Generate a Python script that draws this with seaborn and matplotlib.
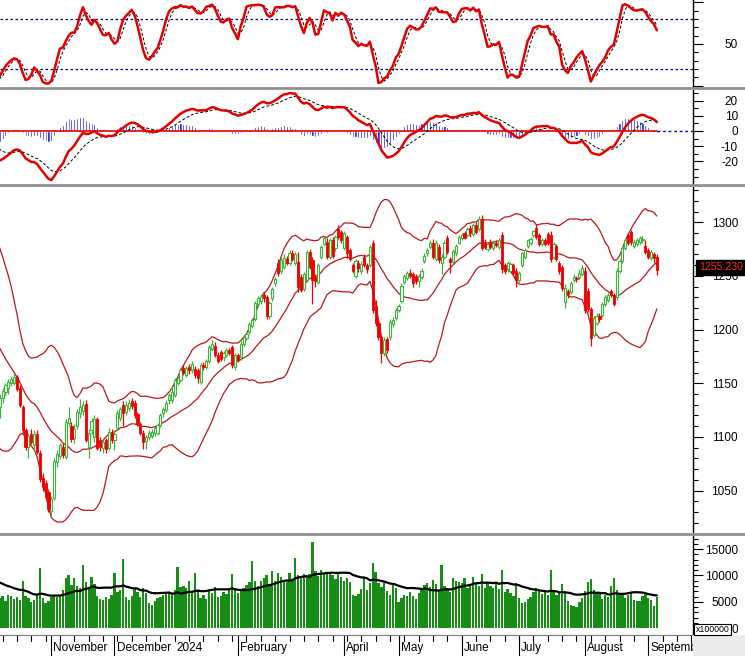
import numpy as np
import pandas as pd
import matplotlib
matplotlib.use("Agg")
import matplotlib.pyplot as plt
from matplotlib.lines import Line2D
from matplotlib.patches import Rectangle
from matplotlib.ticker import FixedLocator
import seaborn as sns

# ---------------- data (bar 0 = 1 Nov 2023, first value = bar -50) ----------------
first_bar = -50

opens = [
    1178, 1172, 1168, 1175, 1182, 1177, 1180, 1189, 1184, 1182,
    1212, 1226, 1224, 1237, 1246, 1242, 1235, 1238, 1240, 1232,
    1230, 1218, 1200, 1180, 1165, 1130, 1148, 1155, 1154, 1140,
    1122, 1118, 1128, 1136, 1142, 1146, 1150, 1150, 1156, 1146,
    1128, 1106, 1091, 1103, 1092, 1103, 1085, 1062, 1057, 1049,
    1031, 1043, 1077, 1082, 1091, 1081, 1113, 1110, 1099, 1110,
    1122, 1124, 1131, 1091, 1106, 1100, 1117, 1097, 1090, 1097,
    1090, 1104, 1097, 1108, 1118, 1130, 1123, 1127, 1133, 1132,
    1121, 1112, 1104, 1096, 1100, 1101, 1104, 1104, 1111, 1122,
    1125, 1134, 1134, 1139, 1150, 1153, 1164, 1158, 1165, 1162,
    1163, 1162, 1151, 1167, 1165, 1171, 1182, 1185, 1176, 1179,
    1174, 1176, 1181, 1184, 1165, 1176, 1174, 1187, 1192, 1198,
    1203, 1210, 1224, 1227, 1232, 1230, 1213, 1229, 1243, 1262,
    1255, 1258, 1266, 1262, 1271, 1262, 1263, 1249, 1238, 1246,
    1272, 1265, 1249, 1244, 1268, 1280, 1282, 1268, 1283, 1276,
    1294, 1291, 1276, 1286, 1274, 1260, 1250, 1262, 1255, 1268,
    1260, 1260, 1281, 1222, 1206, 1193, 1178, 1191, 1193, 1205,
    1211, 1218, 1227, 1244, 1248, 1253, 1252, 1250, 1245, 1249,
    1264, 1271, 1277, 1281, 1266, 1277, 1262, 1268, 1285, 1266,
    1263, 1271, 1281, 1285, 1290, 1288, 1295, 1289, 1297, 1294,
    1303, 1281, 1275, 1282, 1276, 1281, 1277, 1288, 1260, 1256,
    1255, 1260, 1255, 1246, 1260, 1268, 1278, 1281, 1288, 1295,
    1288, 1280, 1283, 1289, 1288, 1268, 1278, 1262, 1258, 1226,
    1236, 1235, 1246, 1248, 1249, 1252, 1255, 1236, 1219, 1195,
    1206, 1213, 1214, 1224, 1228, 1236, 1232, 1230, 1255, 1264,
    1276, 1288, 1291, 1278, 1280, 1282, 1283, 1278, 1274, 1267,
    1270, 1268,
]
highs = [
    1182, 1176, 1178, 1184, 1185, 1183, 1191, 1192, 1188, 1213,
    1228, 1231, 1238, 1248, 1251, 1245, 1241, 1244, 1242, 1236,
    1232, 1220, 1203, 1188, 1167, 1150, 1158, 1160, 1157, 1142,
    1126, 1128, 1140, 1146, 1150, 1154, 1157, 1159, 1158, 1148,
    1130, 1108, 1104, 1107, 1106, 1106, 1088, 1066, 1060, 1051,
    1045, 1080, 1088, 1094, 1094, 1117, 1128, 1114, 1112, 1126,
    1135, 1133, 1134, 1107, 1118, 1120, 1119, 1100, 1098, 1099,
    1108, 1107, 1106, 1125, 1128, 1133, 1133, 1135, 1136, 1134,
    1123, 1114, 1106, 1102, 1106, 1107, 1110, 1113, 1122, 1128,
    1134, 1141, 1148, 1155, 1158, 1164, 1167, 1166, 1168, 1171,
    1166, 1164, 1169, 1170, 1173, 1186, 1190, 1188, 1179, 1181,
    1180, 1183, 1183, 1186, 1178, 1178, 1189, 1195, 1198, 1207,
    1211, 1227, 1231, 1233, 1235, 1232, 1227, 1240, 1249, 1266,
    1268, 1270, 1269, 1274, 1274, 1272, 1272, 1252, 1254, 1274,
    1275, 1268, 1252, 1262, 1279, 1287, 1285, 1285, 1286, 1288,
    1297, 1293, 1292, 1288, 1276, 1262, 1266, 1265, 1264, 1270,
    1262, 1279, 1283, 1228, 1208, 1195, 1193, 1193, 1210, 1212,
    1220, 1224, 1243, 1252, 1255, 1256, 1254, 1252, 1252, 1257,
    1271, 1276, 1283, 1284, 1283, 1280, 1270, 1283, 1288, 1268,
    1275, 1280, 1288, 1290, 1292, 1296, 1297, 1299, 1300, 1306,
    1307, 1284, 1282, 1284, 1283, 1283, 1285, 1291, 1262, 1264,
    1263, 1262, 1257, 1255, 1272, 1276, 1284, 1286, 1293, 1298,
    1290, 1285, 1285, 1291, 1292, 1282, 1280, 1264, 1260, 1242,
    1238, 1245, 1252, 1250, 1256, 1260, 1258, 1239, 1221, 1213,
    1215, 1215, 1226, 1232, 1234, 1238, 1234, 1257, 1266, 1278,
    1285, 1290, 1293, 1284, 1285, 1287, 1287, 1283, 1276, 1274,
    1272, 1270,
]
lows = [
    1165, 1162, 1166, 1172, 1174, 1174, 1179, 1181, 1176, 1181,
    1210, 1219, 1222, 1235, 1238, 1230, 1229, 1233, 1228, 1225,
    1214, 1196, 1176, 1160, 1126, 1122, 1144, 1150, 1138, 1118,
    1110, 1114, 1118, 1132, 1138, 1140, 1147, 1148, 1143, 1128,
    1104, 1088, 1080, 1093, 1088, 1084, 1058, 1050, 1041, 1030,
    1025, 1041, 1072, 1079, 1080, 1079, 1110, 1095, 1094, 1107,
    1118, 1120, 1095, 1080, 1103, 1095, 1088, 1087, 1085, 1085,
    1088, 1094, 1088, 1106, 1115, 1110, 1120, 1124, 1126, 1118,
    1110, 1102, 1089, 1089, 1097, 1099, 1101, 1102, 1109, 1119,
    1123, 1131, 1132, 1137, 1148, 1151, 1158, 1156, 1159, 1160,
    1155, 1150, 1149, 1162, 1163, 1169, 1180, 1174, 1169, 1171,
    1171, 1174, 1176, 1164, 1162, 1170, 1172, 1185, 1190, 1196,
    1201, 1208, 1221, 1224, 1226, 1210, 1210, 1227, 1241, 1250,
    1252, 1256, 1260, 1260, 1264, 1260, 1235, 1235, 1236, 1244,
    1256, 1224, 1240, 1242, 1266, 1278, 1266, 1266, 1267, 1273,
    1284, 1281, 1274, 1267, 1264, 1253, 1248, 1254, 1252, 1258,
    1253, 1258, 1215, 1203, 1190, 1169, 1175, 1178, 1190, 1202,
    1209, 1216, 1225, 1242, 1246, 1248, 1240, 1242, 1240, 1247,
    1262, 1269, 1275, 1266, 1264, 1262, 1252, 1266, 1270, 1253,
    1261, 1269, 1280, 1283, 1284, 1286, 1286, 1287, 1289, 1292,
    1274, 1275, 1273, 1275, 1274, 1277, 1275, 1253, 1252, 1254,
    1253, 1251, 1240, 1244, 1258, 1266, 1276, 1279, 1286, 1284,
    1278, 1278, 1278, 1279, 1263, 1266, 1264, 1252, 1236, 1220,
    1229, 1233, 1244, 1244, 1247, 1250, 1215, 1216, 1185, 1193,
    1204, 1207, 1212, 1222, 1226, 1230, 1222, 1228, 1253, 1262,
    1274, 1279, 1279, 1276, 1278, 1280, 1281, 1270, 1266, 1265,
    1262, 1251,
]
closes = [
    1172, 1168, 1175, 1181, 1177, 1180, 1189, 1184, 1179, 1211,
    1225, 1224, 1236, 1245, 1242, 1235, 1237, 1240, 1232, 1230,
    1218, 1200, 1180, 1165, 1130, 1148, 1155, 1154, 1140, 1122,
    1118, 1125, 1136, 1143, 1148, 1151, 1154, 1156, 1145, 1130,
    1106, 1091, 1101, 1095, 1103, 1086, 1061, 1053, 1044, 1033,
    1042, 1078, 1084, 1092, 1083, 1114, 1118, 1098, 1107, 1123,
    1128, 1130, 1097, 1104, 1115, 1117, 1090, 1091, 1095, 1089,
    1105, 1097, 1103, 1122, 1126, 1122, 1130, 1132, 1129, 1120,
    1112, 1104, 1095, 1100, 1104, 1105, 1108, 1111, 1120, 1126,
    1132, 1139, 1142, 1153, 1155, 1162, 1160, 1164, 1162, 1168,
    1158, 1155, 1167, 1165, 1171, 1184, 1187, 1176, 1171, 1173,
    1178, 1181, 1178, 1167, 1176, 1172, 1187, 1193, 1196, 1205,
    1209, 1225, 1229, 1230, 1229, 1213, 1225, 1238, 1247, 1253,
    1265, 1267, 1262, 1271, 1266, 1270, 1240, 1237, 1252, 1272,
    1258, 1246, 1245, 1260, 1277, 1285, 1268, 1283, 1269, 1286,
    1286, 1283, 1290, 1271, 1266, 1255, 1264, 1257, 1261, 1260,
    1256, 1277, 1218, 1206, 1193, 1178, 1190, 1181, 1207, 1209,
    1218, 1222, 1241, 1250, 1253, 1250, 1243, 1245, 1250, 1255,
    1269, 1274, 1281, 1268, 1281, 1265, 1268, 1281, 1272, 1263,
    1273, 1278, 1286, 1288, 1285, 1294, 1290, 1297, 1291, 1303,
    1276, 1277, 1280, 1277, 1281, 1279, 1283, 1256, 1255, 1262,
    1261, 1253, 1246, 1253, 1271, 1274, 1283, 1284, 1292, 1286,
    1280, 1283, 1280, 1281, 1266, 1280, 1266, 1255, 1239, 1239,
    1233, 1243, 1249, 1247, 1253, 1257, 1218, 1219, 1192, 1211,
    1213, 1210, 1224, 1230, 1232, 1232, 1224, 1255, 1264, 1276,
    1283, 1281, 1282, 1282, 1283, 1285, 1284, 1272, 1268, 1272,
    1267, 1255.23,
]
volumes = [  # in units of 100000 shares
    9800, 8200, 7900, 8400, 7600, 7200, 8800, 7500, 7000, 10500,
    11200, 10800, 11500, 11000, 10600, 9800, 9500, 10200, 8900, 8600,
    9400, 9800, 8800, 11000, 9200, 7800, 7400, 6800, 7200, 8400,
    6900, 6300, 5800, 6200, 5200, 6300, 6100, 5600, 6000, 5400,
    9000, 6200, 5700, 5000, 5400, 6500, 11400, 5800, 4800, 5200,
    5900, 6200, 6000, 6400, 7300, 9500, 10100, 8200, 9600, 8000,
    7600, 12000, 8800, 7400, 9800, 8400, 6200, 5600, 5300, 5900,
    5600, 6400, 10400, 6800, 7200, 13100, 6000, 5400, 6200, 7400,
    6800, 5900, 7600, 6700, 4800, 4500, 5200, 5800, 6000, 6300,
    6500, 6800, 6700, 7200, 11600, 7800, 8100, 7700, 9000, 6900,
    10400, 7200, 5700, 6300, 5600, 7300, 6700, 7800, 6000, 6200,
    6800, 6500, 7400, 10300, 7600, 6600, 7000, 7600, 8200, 8700,
    12700, 9000, 8100, 8900, 9600, 10000, 8400, 10800, 9000, 10500,
    9800, 9200, 8800, 10400, 9300, 13300, 10000, 9500, 10300, 9700,
    10200, 16300, 10800, 9900, 11000, 10400, 10600, 10700, 10000, 9400,
    10200, 9800, 8900, 9600, 8800, 6300, 6200, 6500, 7400, 9500,
    7200, 8600, 12300, 10600, 8500, 7800, 8600, 7000, 6400, 8200,
    7600, 5000, 5700, 6400, 6200, 6800, 6200, 5500, 6600, 7500,
    8200, 8600, 7800, 9200, 8400, 7000, 12000, 8000, 7300, 6900,
    9500, 9000, 8800, 8500, 9600, 7600, 8300, 9800, 8600, 8100,
    10300, 7700, 8600, 8000, 7600, 8800, 7400, 11100, 6900, 7500,
    6600, 6200, 8500, 5800, 4800, 4900, 5600, 6000, 6800, 7600,
    7200, 6500, 7000, 6300, 11100, 7200, 6400, 6800, 8400, 6700,
    5200, 4500, 4300, 4100, 5000, 5800, 7000, 8700, 9400, 7200,
    6800, 6500, 5600, 6400, 6000, 8100, 9500, 7200, 6400, 6700,
    5800, 6300, 6800, 5400, 5200, 5100, 6200, 6600, 5800, 5400,
    4300, 6000,
]

month_bars = [0, 22, 43, 65, 102, 121, 143, 163, 186, 208]
month_labels = ["November", "December", "2024", "February", "April", "May",
                "June", "July", "August", "September"]
month_has_line = [True, True, False, True, True, True, True, True, True, True]
last_price_text = "1255.230"
volume_unit_text = "x100000"

# ---------------- indicators ----------------
sns.set_theme(style="white")
plt.rcParams["font.family"] = ["Liberation Sans", "DejaVu Sans"]

assert len(opens) == len(highs) == len(lows) == len(closes) == len(volumes)
df = pd.DataFrame({"bar": np.arange(first_bar, first_bar + len(closes)),
                   "open": opens, "high": highs, "low": lows,
                   "close": closes, "volume": volumes})
c = df["close"]
df["mid"] = c.rolling(20).mean()
sd = c.rolling(20).std(ddof=0)
df["upper"] = df["mid"] + 2 * sd
df["lower"] = df["mid"] - 2 * sd
# slow stochastic (20, 3, 3)
ll = df["low"].rolling(20).min()
hh = df["high"].rolling(20).max()
fast_k = 100 * (c - ll) / (hh - ll)
df["stk"] = fast_k.rolling(3).mean()
df["std_"] = df["stk"].rolling(3).mean()
# MACD (12, 26, 9)
df["macd"] = c.ewm(span=12, adjust=False).mean() - c.ewm(span=26, adjust=False).mean()
df["signal"] = df["macd"].ewm(span=9, adjust=False).mean()
df["hist"] = df["macd"] - df["signal"]
df["vol_ma"] = df["volume"].rolling(20).mean()

vis = df[df["bar"] >= -19].copy()
last_bar = int(df["bar"].iloc[-1])

# ---------------- layout ----------------
W, H = 745.0, 656.0
AXR = 692.7


def rect(top, bottom, left=0.0, right=AXR):
    return [left / W, 1 - bottom / H, (right - left) / W, (bottom - top) / H]


fig = plt.figure(figsize=(W / 100, H / 100), dpi=100)
fig.patch.set_facecolor("white")
ax_osc = fig.add_axes(rect(0, 87))
ax_macd = fig.add_axes(rect(89.5, 184))
ax_px = fig.add_axes(rect(186.5, 532))
ax_vol = fig.add_axes(rect(535, 635))
ax_dt = fig.add_axes(rect(635, 656))
XL = (-17.9, 223.5)

RED = "#e00000"
BAND = "#b51a1a"
UPC = "#3cb43c"
DNC = "#ee0000"
FS = 8.5
LABEL_OFFSET_PT = (738 - AXR) * 0.72


def style_axis(ax, major, labels, minor, ylim):
    ax.set_xlim(*XL)
    ax.set_ylim(*ylim)
    ax.set_facecolor("white")
    for s in ["left", "top", "bottom"]:
        ax.spines[s].set_visible(False)
    ax.spines["right"].set_color("black")
    ax.spines["right"].set_linewidth(1.0)
    ax.set_xticks([])
    ax.yaxis.tick_right()
    ax.yaxis.set_major_locator(FixedLocator(major))
    ax.yaxis.set_minor_locator(FixedLocator(minor))
    ax.set_yticklabels(labels)
    ax.tick_params(axis="y", which="major", direction="out", length=7, width=0.8,
                   colors="black", labelsize=FS, pad=LABEL_OFFSET_PT - 7,
                   right=True, left=False, labelright=True, labelleft=False)
    ax.tick_params(axis="y", which="minor", direction="out", length=3.5, width=0.8,
                   colors="black", right=True, left=False)
    for t in ax.get_yticklabels():
        t.set_horizontalalignment("right")
    ax.grid(False)
    ax.set_xlabel("")
    ax.set_ylabel("")


# ---- stochastic panel ----
sns.lineplot(data=vis, x="bar", y="stk", color=RED, lw=1.8, ax=ax_osc, legend=False, zorder=3)
sns.lineplot(data=vis, x="bar", y="std_", color="black", lw=0.7, ax=ax_osc,
             legend=False, zorder=2, linestyle=(0, (3, 2)))
for lvl in (80, 20):
    ax_osc.axhline(lvl, color="#000080", lw=0.9, ls=(0, (2, 2)), zorder=1)
style_axis(ax_osc, [0, 50, 100], ["", "50", ""], list(range(10, 100, 10)), (-1.6, 102.8))

# ---- MACD panel ----
ax_macd.bar(vis["bar"], vis["hist"], width=0.72, color="#0000ee", zorder=2)
ax_macd.plot([vis["bar"].iloc[0], last_bar], [0, 0], color=RED, lw=1.2, zorder=3)
ax_macd.plot([last_bar, XL[1]], [0, 0], color="#0000cc", lw=1.0, ls=(0, (2, 2)), zorder=3)
sns.lineplot(data=vis, x="bar", y="signal", color="black", lw=0.7, ax=ax_macd,
             legend=False, zorder=3, linestyle=(0, (3, 2)))
sns.lineplot(data=vis, x="bar", y="macd", color=RED, lw=1.8, ax=ax_macd, legend=False, zorder=4)
style_axis(ax_macd, [-20, -10, 0, 10, 20], ["-20", "-10", "0", "10", "20"],
           list(range(-35, 30, 5)), (-34.9, 27.3))

# ---- Price panel ----
for col in ("upper", "mid", "lower"):
    sns.lineplot(data=vis, x="bar", y=col, color=BAND, lw=0.9, ax=ax_px, legend=False, zorder=1)
up = vis[vis["close"] >= vis["open"]]
dn = vis[vis["close"] < vis["open"]]
ax_px.vlines(up["bar"], up["low"], up["high"], color=UPC, lw=0.9, zorder=2)
ax_px.vlines(dn["bar"], dn["low"], dn["high"], color=DNC, lw=0.9, zorder=2)
ax_px.bar(up["bar"], (up["close"] - up["open"]).clip(lower=0.7), bottom=up["open"],
          width=0.75, facecolor="white", edgecolor=UPC, linewidth=0.8, zorder=3)
ax_px.bar(dn["bar"], (dn["open"] - dn["close"]).clip(lower=0.7), bottom=dn["close"],
          width=0.75, facecolor=DNC, edgecolor=DNC, linewidth=0.6, zorder=3)
style_axis(ax_px, [1050, 1100, 1150, 1200, 1250, 1300],
           ["1050", "1100", "1150", "1200", "1250", "1300"],
           list(range(1020, 1331, 10)), (1011.4, 1333.3))

# ---- Volume panel ----
ax_vol.bar(vis["bar"], vis["volume"], width=0.8, color="#178c17", linewidth=0, zorder=2)
sns.lineplot(data=vis, x="bar", y="vol_ma", color="black", lw=1.6, ax=ax_vol, legend=False, zorder=3)
style_axis(ax_vol, [0, 5000, 10000, 15000], ["0", "5000", "10000", "15000"],
           list(range(0, 17001, 1000)), (-1269, 17670))

# ---- date strip ----
ax_dt.set_xlim(*XL)
ax_dt.set_ylim(0, 1)
ax_dt.set_facecolor("white")
for s in ["left", "bottom", "right"]:
    ax_dt.spines[s].set_visible(False)
ax_dt.spines["top"].set_color("#7a7a7a")
ax_dt.spines["top"].set_linewidth(0.8)
ax_dt.set_xticks([])
ax_dt.set_yticks([])
for wk in np.arange(-17, 224, 5):
    ax_dt.plot([wk, wk], [1, 0.72], color="black", lw=0.8)
for b, lab, has_line in zip(month_bars, month_labels, month_has_line):
    if has_line:
        ax_dt.plot([b, b], [1, 0], color="black", lw=0.8)
    ax_dt.text(b + 0.7, 0.36, lab, fontsize=FS, ha="left", va="center",
               color="black", clip_on=True)

# ---- decorations ----
fig.patches.append(Rectangle((AXR / W, 0), 1 - AXR / W, 21 / H, transform=fig.transFigure,
                             facecolor="#ebebeb", edgecolor="none", zorder=0))
for ypx in (88.2, 185.2, 533.5):
    fig.add_artist(Line2D([0, 1], [1 - ypx / H] * 2, transform=fig.transFigure,
                          color="#8f8f8f", lw=2.0))
fig.text(721 / W, 1 - 267.5 / H, last_price_text, color="#ff2a2a", fontsize=7.6,
         ha="center", va="center",
         bbox=dict(boxstyle="square,pad=0.28", facecolor="black", edgecolor="black"))
fig.text(712.5 / W, 1 - 629.5 / H, volume_unit_text, color="black", fontsize=6.3,
         ha="center", va="center",
         bbox=dict(boxstyle="square,pad=0.15", facecolor="white", edgecolor="black", lw=0.8))

fig.savefig("out.png", dpi=100, facecolor="white")
